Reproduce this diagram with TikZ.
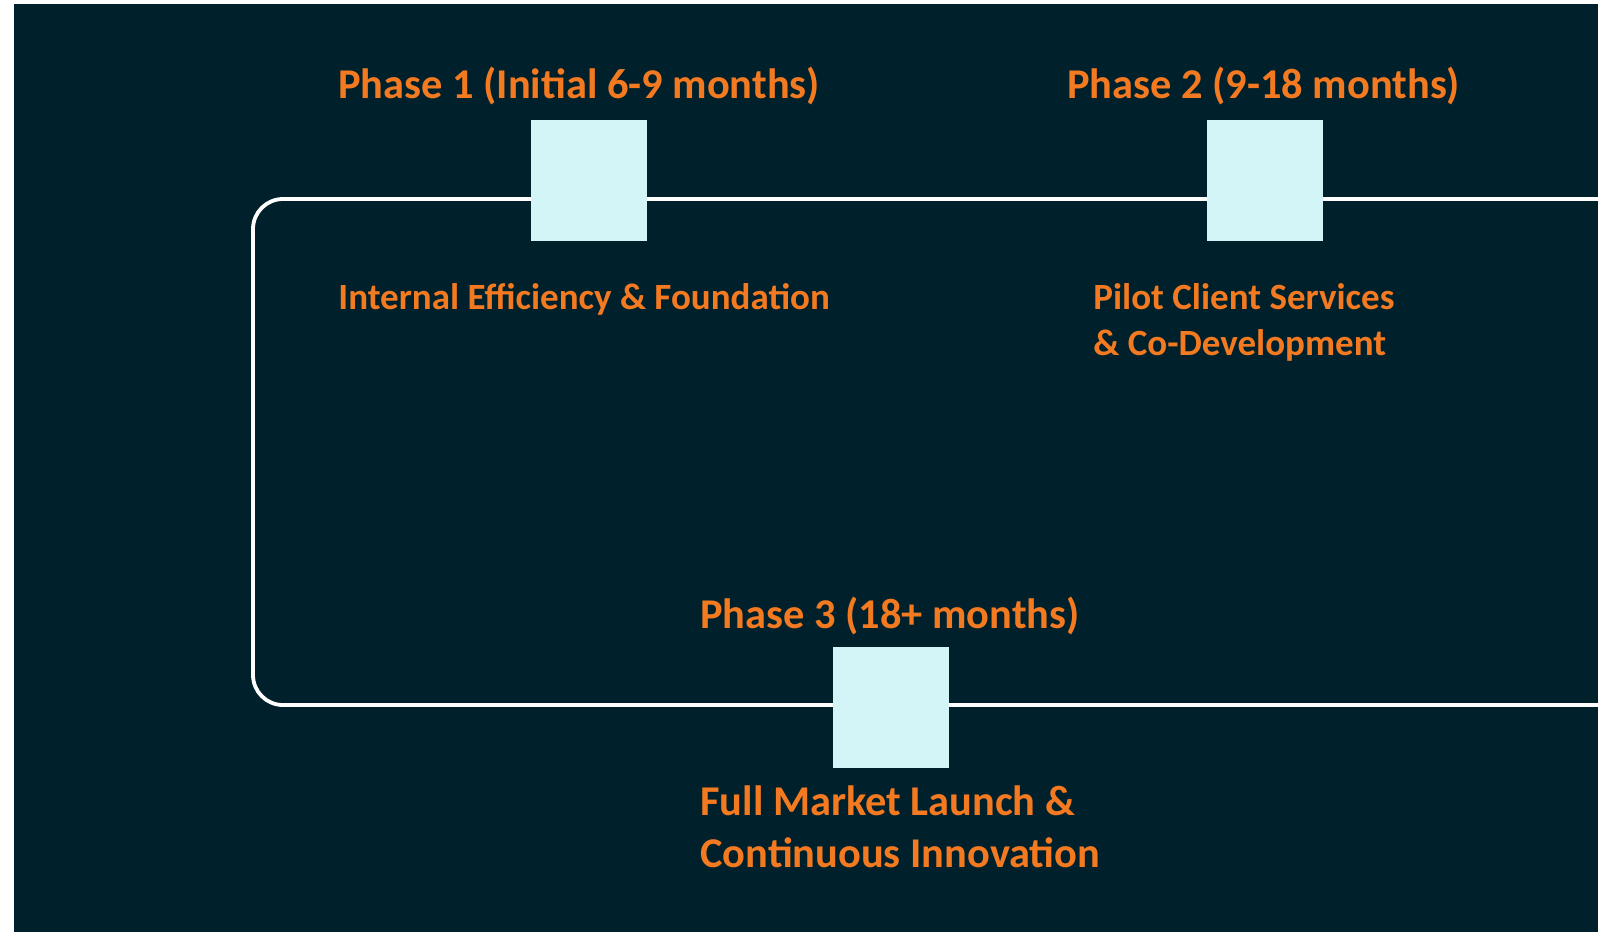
\documentclass[tikz,border=0pt]{standalone}
\usepackage{fontspec}
\setmainfont{Carlito}
\usetikzlibrary{positioning}
\definecolor{bgdark}{HTML}{00212B}
\definecolor{boxcyan}{HTML}{D4F5F8}
\definecolor{phaseorange}{HTML}{F37A21}

\begin{document}
\begin{tikzpicture}[x=0.5pt,y=-0.5pt,
    track/.style={draw=white, line width=1.9pt, rounded corners=15pt},
    milestone/.style={fill=boxcyan, minimum width=58pt, minimum height=60.5pt, inner sep=0pt},
    phasetitle/.style={text=phaseorange, font=\fontsize{21.2}{26}\selectfont\bfseries, anchor=base west, inner sep=0pt},
    phasetext/.style={text=phaseorange, font=\fontsize{18.5}{23}\selectfont\bfseries, anchor=base west, inner sep=0pt, align=left}]
\useasboundingbox (0,0) rectangle (1598,932);
\fill[bgdark] (14,4) rectangle (1598,932);
% track
\coordinate (trackin) at (1598,199);
\coordinate (cornertop) at (253,199);
\coordinate (cornerbottom) at (253,705);
\coordinate (trackout) at (1598,705);
\draw[track] (trackin) -- (cornertop) -- (cornerbottom) -- (trackout);
% milestones
\node[milestone] (phaseone) at (589,180) {};
\node[milestone] (phasetwo) at (1265,180) {};
\node[milestone] (phasethree) at (891,707) {};
% labels (multi-line ones sit on the baseline of their last line)
\node[phasetitle] (titleone) at (338,98) {Phase 1 (Initial 6-9 months)};
\node[phasetitle] (titletwo) at (1067,98) {Phase 2 (9-18 months)};
\node[phasetitle] (titlethree) at (700,628) {Phase 3 (18+ months)};
\node[phasetext] (textone) at (338,309) {Internal Efficiency \& Foundation};
\node[phasetext] (texttwo) at (1093,355) {Pilot Client Services\\\& Co-Development};
\node[phasetext, font=\fontsize{21.2}{26}\selectfont\bfseries] (textthree) at (700,867) {Full Market Launch \&\\Continuous Innovation};
\end{tikzpicture}
\end{document}
